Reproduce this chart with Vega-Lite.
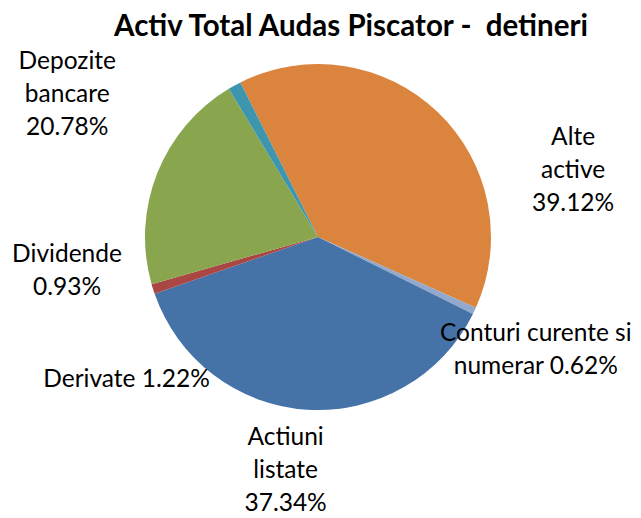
{
  "$schema": "https://vega.github.io/schema/vega-lite/v6.json",
  "width": 636,
  "height": 386,
  "autosize": {"type": "none"},
  "padding": {"left": 0, "top": 44, "right": 5, "bottom": 88},
  "background": "white",
  "title": {
    "text": "Activ Total Audas Piscator -\u00a0 detineri",
    "font": "Lato",
    "fontSize": 29.5,
    "fontWeight": "bold",
    "color": "#000000",
    "anchor": "middle",
    "frame": "group",
    "dx": 33,
    "offset": 2
  },
  "config": {"view": {"stroke": null}},
  "data": {
    "values": [
      {"cat": "Alte active", "value": 39.12, "order": 1, "label": "Alte\nactive\n39.12%"},
      {"cat": "Conturi curente si numerar", "value": 0.62, "order": 2, "label": "Conturi curente si\nnumerar 0.62%"},
      {"cat": "Actiuni listate", "value": 37.34, "order": 3, "label": "Actiuni\nlistate\n37.34%"},
      {"cat": "Dividende", "value": 0.93, "order": 4, "label": "Dividende\n0.93%"},
      {"cat": "Depozite bancare", "value": 20.78, "order": 5, "label": "Depozite\nbancare\n20.78%"},
      {"cat": "Derivate", "value": 1.22, "order": 6, "label": "Derivate 1.22%"}
    ]
  },
  "encoding": {
    "theta": {"field": "value", "type": "quantitative", "stack": true, "scale": {"range": [5.818, 12.1012]}},
    "order": {"field": "order", "type": "quantitative"}
  },
  "layer": [
    {
      "mark": {"type": "arc", "outerRadius": 173},
      "encoding": {
        "color": {
          "field": "cat",
          "type": "nominal",
          "legend": null,
          "scale": {
            "domain": ["Alte active", "Conturi curente si numerar", "Actiuni listate", "Dividende", "Depozite bancare", "Derivate"],
            "range": ["#DB843D", "#92A8CD", "#4572A7", "#AA4643", "#89A54E", "#3D96AE"]
          }
        }
      }
    },
    {
      "mark": {"type": "text", "radius": {"expr": "datum.cat === 'Alte active' ? 273.5 : 0"}, "thetaOffset": 0.438, "font": "Lato", "fontSize": 24.5, "lineBreak": "\n", "lineHeight": 33, "align": "center", "baseline": "middle", "color": "#000000"},
      "encoding": {"text": {"condition": {"test": "datum.cat === 'Alte active'", "field": "label"}, "value": ""}}
    },
    {
      "mark": {"type": "text", "radius": {"expr": "datum.cat === 'Conturi curente si numerar' ? 238.2 : 0"}, "thetaOffset": -0.024, "font": "Lato", "fontSize": 24.5, "lineBreak": "\n", "lineHeight": 33, "align": "center", "baseline": "middle", "color": "#000000"},
      "encoding": {"text": {"condition": {"test": "datum.cat === 'Conturi curente si numerar'", "field": "label"}, "value": ""}}
    },
    {
      "mark": {"type": "text", "radius": {"expr": "datum.cat === 'Actiuni listate' ? 203.5 : 0"}, "thetaOffset": 0.097, "font": "Lato", "fontSize": 24.5, "lineBreak": "\n", "lineHeight": 33, "align": "center", "baseline": "middle", "color": "#000000"},
      "encoding": {"text": {"condition": {"test": "datum.cat === 'Actiuni listate'", "field": "label"}, "value": ""}}
    },
    {
      "mark": {"type": "text", "radius": {"expr": "datum.cat === 'Dividende' ? 251.6 : 0"}, "thetaOffset": 0.236, "font": "Lato", "fontSize": 24.5, "lineBreak": "\n", "lineHeight": 33, "align": "center", "baseline": "middle", "color": "#000000"},
      "encoding": {"text": {"condition": {"test": "datum.cat === 'Dividende'", "field": "label"}, "value": ""}}
    },
    {
      "mark": {"type": "text", "radius": {"expr": "datum.cat === 'Depozite bancare' ? 306 : 0"}, "thetaOffset": 0.234, "font": "Lato", "fontSize": 24.5, "lineBreak": "\n", "lineHeight": 33, "align": "center", "baseline": "middle", "color": "#000000"},
      "encoding": {"text": {"condition": {"test": "datum.cat === 'Depozite bancare'", "field": "label"}, "value": ""}}
    },
    {
      "mark": {"type": "text", "radius": {"expr": "datum.cat === 'Derivate' ? 239.2 : 0"}, "thetaOffset": -1.710, "font": "Lato", "fontSize": 24.5, "lineBreak": "\n", "lineHeight": 33, "align": "center", "baseline": "middle", "color": "#000000"},
      "encoding": {"text": {"condition": {"test": "datum.cat === 'Derivate'", "field": "label"}, "value": ""}}
    }
  ]
}
